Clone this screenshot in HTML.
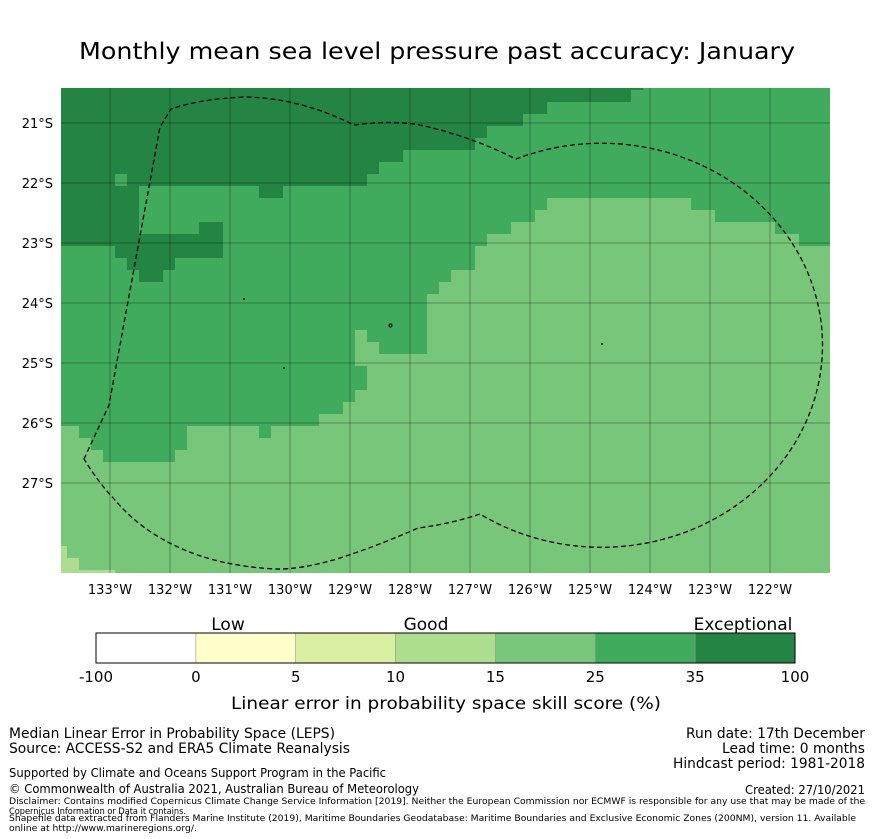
<!DOCTYPE html>
<html><head><meta charset="utf-8"><style>
html,body{margin:0;padding:0;background:#fff;}
svg{display:block;font-family:"DejaVu Sans","Liberation Sans",sans-serif;}
</style></head><body>
<svg id="chart" width="873" height="839" viewBox="0 0 873 839" xmlns="http://www.w3.org/2000/svg">
<defs><clipPath id="mapclip"><rect x="61" y="88" width="769" height="485"/></clipPath></defs>
<text x="437" y="59" font-size="23" text-anchor="middle" textLength="716" lengthAdjust="spacingAndGlyphs">Monthly mean sea level pressure past accuracy: January</text>
<g id="map" clip-path="url(#mapclip)"></g>
<g id="grid" clip-path="url(#mapclip)"></g>
<path fill="none" stroke="#000" stroke-width="1.3" stroke-dasharray="5,3"
 d="M84,459 L109,405 L160,127 L171,109 Q200,99 245,97 Q300,98 354,125 Q390,120 420,125 Q470,136 516,159 A221 202 0 1 1 480,514 Q450,524 418,528 Q380,545 340,558 Q300,570 275,569 Q220,566 180,548 Q140,530 115,500 Q98,482 84,459 Z" clip-path="url(#mapclip)"/>
<g fill="none" stroke="#000" stroke-width="1">
<circle cx="390.5" cy="325.5" r="1.5"/><circle cx="244" cy="299" r="0.5"/><circle cx="284" cy="368" r="0.5"/><circle cx="602" cy="344" r="0.5"/>
</g>
<rect x="61" y="88" width="769" height="485" fill="none" stroke="none"/>
<g id="xticks" font-size="13"></g>
<g id="yticks" font-size="13"></g>
<g id="cbar"></g>
<text x="228" y="630" font-size="17" text-anchor="middle">Low</text>
<text x="426" y="630" font-size="17" text-anchor="middle">Good</text>
<text x="743" y="630" font-size="17" text-anchor="middle">Exceptional</text>
<text x="446" y="709" font-size="17" text-anchor="middle" textLength="430" lengthAdjust="spacingAndGlyphs">Linear error in probability space skill score (%)</text>
<g font-size="14">
<text x="9" y="738" textLength="326" lengthAdjust="spacingAndGlyphs">Median Linear Error in Probability Space (LEPS)</text>
<text x="9" y="753" textLength="341" lengthAdjust="spacingAndGlyphs">Source: ACCESS-S2 and ERA5 Climate Reanalysis</text>
<text x="865" y="738" text-anchor="end" textLength="179" lengthAdjust="spacingAndGlyphs">Run date: 17th December</text>
<text x="865" y="753" text-anchor="end" textLength="143" lengthAdjust="spacingAndGlyphs">Lead time: 0 months</text>
<text x="865" y="768" text-anchor="end" textLength="192" lengthAdjust="spacingAndGlyphs">Hindcast period: 1981-2018</text>
<text x="9" y="777" font-size="12" textLength="377" lengthAdjust="spacingAndGlyphs">Supported by Climate and Oceans Support Program in the Pacific</text>
<text x="9" y="793" font-size="12" textLength="410" lengthAdjust="spacingAndGlyphs">© Commonwealth of Australia 2021, Australian Bureau of Meteorology</text>
<text x="865" y="794" font-size="12" text-anchor="end" textLength="120" lengthAdjust="spacingAndGlyphs">Created: 27/10/2021</text>
<text x="9" y="804" font-size="9" textLength="856" lengthAdjust="spacingAndGlyphs">Disclaimer: Contains modified Copernicus Climate Change Service Information [2019]. Neither the European Commission nor ECMWF is responsible for any use that may be made of the</text>
<text x="9" y="814" font-size="9" textLength="177" lengthAdjust="spacingAndGlyphs">Copernicus Information or Data it contains.</text>
<text x="9" y="821" font-size="9" textLength="847" lengthAdjust="spacingAndGlyphs">Shapefile data extracted from Flanders Marine Institute (2019), Maritime Boundaries Geodatabase: Maritime Boundaries and Exclusive Economic Zones (200NM), version 11. Available</text>
<text x="9" y="831" font-size="9" textLength="188" lengthAdjust="spacingAndGlyphs">online at http://www.marineregions.org/.</text>
</g>
</svg>
<script>
// skill-class per 0.2° cell, run-length encoded per row [class,count,...]; last class fills rest
const rowRuns = [
 [5,49,4],[5,48,4],[5,41,4],[5,39,4],[5,36,4],[5,35,4],[5,29,4],[5,27,4],
 [5,5,4,1,5,20,4],[5,7,4,10,5,2,4],[5,7,4,34,3,12,4],[5,7,4,33,3,15,4],
 [5,7,4,5,5,2,4,24,3,22,4],[5,14,4,22,3,26,4],[4,5,5,9,4,21,3],[4,6,5,4,4,25,3],
 [4,7,5,2,4,24,3],[4,32,3],[4,31,3],[4,31,3],[4,31,3],[4,25,3,1,4,5,3],
 [4,25,3,2,4,4,3],[4,25,3],[4,26,3],[4,26,3],[4,25,3],[4,24,3],[4,22,3],
 [3,2,4,9,3,6,4,1,3],[3,3,4,8,3],[3,4,4,6,3],
 [3],[3],[3],[3],[3],[3],[3],[2,1,3],[2,2,3],[2,5,3]
];
const classColors = {2:"#addd8e",3:"#78c679",4:"#41ab5d",5:"#238443"};
const lonTicks = [-133,-132,-131,-130,-129,-128,-127,-126,-125,-124,-123,-122];
const latTicks = [-21,-22,-23,-24,-25,-26,-27];
const cbarBounds = [-100,0,5,10,15,25,35,100];
const cbarColors = ["#ffffff","#ffffcc","#d9f0a3","#addd8e","#78c679","#41ab5d","#238443"];

const NS="http://www.w3.org/2000/svg";
function xOf(lon){return 110+(lon+133)*60;}
function yOf(lat){return 123+(-21-lat)*60;}
const cell=0.2, lon0=-133.9167, lat0=-20.25, ncol=65;
const map=document.getElementById('map');
rowRuns.forEach((runs,r)=>{
  const cls=[];
  for(let i=0;i+1<runs.length;i+=2){for(let k=0;k<runs[i+1];k++)cls.push(runs[i]);}
  while(cls.length<ncol)cls.push(runs[runs.length-1]);
  let c=0;
  while(c<ncol){
    let e=c; while(e<ncol&&cls[e]===cls[c])e++;
    const x1=xOf(lon0+cell*c), x2=xOf(lon0+cell*e);
    const y1=yOf(lat0-cell*r), y2=yOf(lat0-cell*(r+1));
    const rect=document.createElementNS(NS,'rect');
    
    
    rect.setAttribute('x',x1);rect.setAttribute('y',y1);
    rect.setAttribute('width',x2-x1);rect.setAttribute('height',y2-y1+0.3);
    rect.setAttribute('fill',classColors[cls[c]]);
    map.appendChild(rect);
    c=e;
  }
});
const grid=document.getElementById('grid');
const xt=document.getElementById('xticks'), yt=document.getElementById('yticks');
lonTicks.forEach(l=>{
  const x=xOf(l);
  const ln=document.createElementNS(NS,'line');
  
  
  ln.setAttribute('x1',x);ln.setAttribute('x2',x);ln.setAttribute('y1',88);ln.setAttribute('y2',573);
  ln.setAttribute('stroke','rgba(0,0,0,0.3)');ln.setAttribute('stroke-width','1');
  grid.appendChild(ln);
  const t=document.createElementNS(NS,'text');
  
  
  t.setAttribute('x',x);t.setAttribute('y',594);t.setAttribute('text-anchor','middle');
  t.textContent=(-l)+'°W';
  xt.appendChild(t);
});
latTicks.forEach(l=>{
  const y=yOf(l);
  const ln=document.createElementNS(NS,'line');
  
  
  ln.setAttribute('x1',61);ln.setAttribute('x2',830);ln.setAttribute('y1',y);ln.setAttribute('y2',y);
  ln.setAttribute('stroke','rgba(0,0,0,0.3)');ln.setAttribute('stroke-width','1');
  grid.appendChild(ln);
  const t=document.createElementNS(NS,'text');
  
  
  t.setAttribute('x',53);t.setAttribute('y',y+5);t.setAttribute('text-anchor','end');
  t.textContent=(-l)+'°S';
  yt.appendChild(t);
});
const cb=document.getElementById('cbar');
const cbX0=96, cbW=699, nseg=cbarColors.length;
cbarColors.forEach((col,i)=>{
  const r=document.createElementNS(NS,'rect');
  
  
  r.setAttribute('x',cbX0+cbW*i/nseg);r.setAttribute('y',633);
  r.setAttribute('width',cbW/nseg);r.setAttribute('height',30);
  r.setAttribute('fill',col);r.setAttribute('stroke','#999');r.setAttribute('stroke-width','0.6');
  cb.appendChild(r);
});
const fr=document.createElementNS(NS,'rect');


fr.setAttribute('x',cbX0);fr.setAttribute('y',633);fr.setAttribute('width',cbW);fr.setAttribute('height',30);
fr.setAttribute('fill','none');fr.setAttribute('stroke','#000');fr.setAttribute('stroke-width','1');
cb.appendChild(fr);
cbarBounds.forEach((b,i)=>{
  const x=cbX0+cbW*i/nseg;
  const t=document.createElementNS(NS,'text');
  
  
  t.setAttribute('x',x);t.setAttribute('y',682);t.setAttribute('text-anchor','middle');t.setAttribute('font-size','15');
  t.textContent=b;
  cb.appendChild(t);
});
</script>
</body></html>
